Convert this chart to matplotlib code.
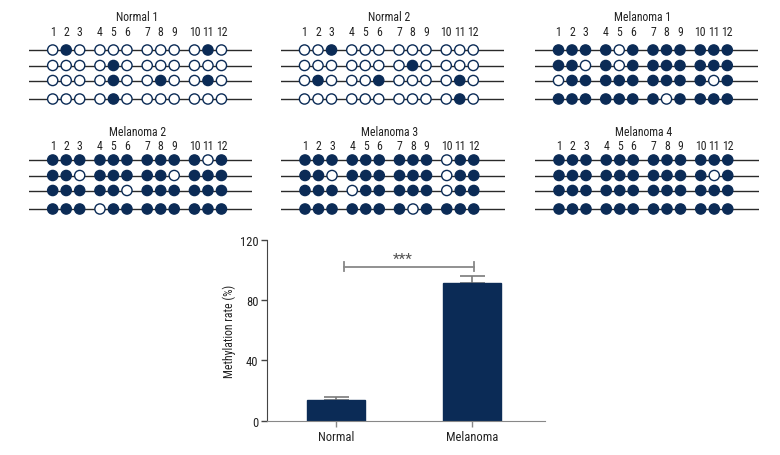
import matplotlib
matplotlib.use("Agg")
import matplotlib.pyplot as plt
from matplotlib import font_manager as fm
import numpy as np

# pick a narrow font if one is installed
_avail = {f.name: f for f in fm.fontManager.ttflist}
_cond = [f for f in fm.fontManager.ttflist
         if str(f.stretch) in ('condensed', 'semi-condensed', 'extra-condensed')
         or 'Narrow' in f.name or 'Condensed' in f.name]
FAMILY = 'DejaVu Sans'
STRETCH = 'normal'
for cand in ['Liberation Sans Narrow', 'Roboto Condensed', 'Open Sans Condensed',
             'Noto Sans Condensed', 'DejaVu Sans Condensed']:
    if cand in _avail:
        FAMILY = cand
        break
else:
    for pref in ['DejaVu Sans', 'Noto Sans', 'Open Sans', 'Roboto']:
        hits = [f for f in _cond if f.name == pref]
        if hits:
            FAMILY = pref
            STRETCH = 'condensed'
            break
plt.rcParams['font.family'] = [FAMILY, 'DejaVu Sans']
plt.rcParams['font.stretch'] = STRETCH

# ---------------- data ----------------
panel_names = ['Normal 1', 'Normal 2', 'Melanoma 1',
               'Melanoma 2', 'Melanoma 3', 'Melanoma 4']
cpg_labels = ['1', '2', '3', '4', '5', '6', '7', '8', '9', '10', '11', '12']

# 1 = methylated (filled), 0 = unmethylated (open); 4 clones per sample
normal1 = ["010000000010",
           "000010000000",
           "000010010010",
           "000010000000"]
normal2 = ["001000000000",
           "000000010000",
           "010001000010",
           "000000000010"]
melanoma1 = ["111101111111",
             "110101111111",
             "011111111101",
             "111111101111"]
melanoma2 = ["111111111101",
             "110111110111",
             "111110111111",
             "111011111111"]
melanoma3 = ["111111111011",
             "110111111011",
             "111011111011",
             "111111101111"]
melanoma4 = ["111111111111",
             "111111111101",
             "111111111111",
             "111111111111"]
patterns = [normal1, normal2, melanoma1, melanoma2, melanoma3, melanoma4]

bar_groups = ['Normal', 'Melanoma']
bar_means = [13.7, 91.2]
bar_err = [2.2, 4.7]
sig_label = '***'
yticks = [0, 40, 80, 120]
ylabel = 'Methylation rate (%)'

# ---------------- layout / style ----------------
NAVY = '#0b2b56'
W, H = 780, 456
fig = plt.figure(figsize=(W / 100, H / 100), dpi=100)

unit = 13.5                      # px per CpG step
xpos = np.array([g * 3.5 + k for g in range(4) for k in range(3)])
row_off = [0, 15.5, 30.5, 49]    # px offsets of the 4 clone lines
circle1_x = [[52.7, 304.5, 558.5], [52.7, 305.0, 559.0]]
row1_y = [51, 161]
title_off = [-33.5, -28]
num_off = [-18, -14.5]
left_pad, right_pad = 24, 31
top_pad, bot_pad = 42, 58

for i, (name, pat) in enumerate(zip(panel_names, patterns)):
    r, c = divmod(i, 3)
    cx = circle1_x[r][c]
    ry = row1_y[r]
    left_px = cx - left_pad
    width_px = xpos[-1] * unit + left_pad + right_pad
    top_px = ry - top_pad
    height_px = top_pad + bot_pad
    ax = fig.add_axes([left_px / W, 1 - (top_px + height_px) / H,
                       width_px / W, height_px / H])
    ax.set_xlim(-left_pad / unit, xpos[-1] + right_pad / unit)
    ax.set_ylim(bot_pad, -top_pad)
    ax.axis('off')
    for j, row in enumerate(pat):
        y = row_off[j]
        ax.axhline(y, color='#2a2a2a', lw=1.0, zorder=1)
        vals = np.array([int(ch) for ch in row])
        fc = [NAVY if v else 'white' for v in vals]
        ax.scatter(xpos, np.full(len(xpos), y), s=54, facecolors=fc,
                   edgecolors=NAVY, linewidths=1.0, zorder=2)
    for x, lab in zip(xpos, cpg_labels):
        ax.text(x, num_off[r], lab, ha='center', va='center',
                fontsize=8.5, color='#222222')
    ax.text(xpos.mean(), title_off[r], name, ha='center', va='center',
            fontsize=8.5, color='#222222')

# ---------------- bar chart ----------------
bx0, bx1, by0, by1 = 266.7, 545.0, 241.0, 421.7
axb = fig.add_axes([bx0 / W, 1 - by1 / H, (bx1 - bx0) / W, (by1 - by0) / H])
xb = np.arange(len(bar_groups))
axb.bar(xb, bar_means, width=0.42, color=NAVY, edgecolor=NAVY, zorder=2)
axb.errorbar(xb, bar_means, yerr=[np.zeros(len(bar_err)), bar_err],
             fmt='none', ecolor='#7a7a7a', elinewidth=1.2, capsize=9,
             capthick=1.2, zorder=1)
axb.set_xlim(-0.51, 1.537)
axb.set_ylim(0, 120)
axb.set_yticks(yticks)
axb.set_xticks(xb)
axb.set_xticklabels(bar_groups)
axb.spines['top'].set_visible(False)
axb.spines['right'].set_visible(False)
axb.spines['left'].set_color('#444444')
axb.spines['bottom'].set_color('#888888')
axb.tick_params(axis='y', length=4, width=1, color='#444444',
                labelsize=9, labelcolor='#222222', pad=2)
axb.tick_params(axis='x', length=4, width=1, color='#888888',
                labelsize=9, labelcolor='#222222', pad=3)
axb.set_ylabel(ylabel, fontsize=8.5, color='#222222', labelpad=3)

# significance bracket
sx0, sx1, sy = 0.06, 1.017, 102.3
axb.plot([sx0, sx1], [sy, sy], color='#888888', lw=1.3, clip_on=False)
for sx in (sx0, sx1):
    axb.plot([sx, sx], [sy - 3, sy + 3], color='#888888', lw=1.3,
             clip_on=False)
axb.text((sx0 + sx1) / 2 - 0.05, sy + 5.0, sig_label, ha='center',
         va='center', fontsize=11, color='#555555')

fig.savefig('out.png', dpi=100)
